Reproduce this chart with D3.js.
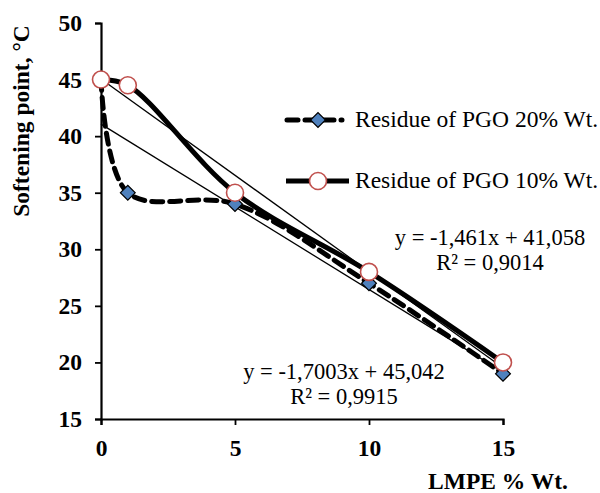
<!DOCTYPE html>
<html>
<head>
<meta charset="utf-8">
<script src="https://cdn.jsdelivr.net/npm/d3@7"></script>
<style>
  body { margin: 0; background: #fff; }
  text { font-family: "Liberation Serif", "Times New Roman", serif; }
</style>
</head>
<body>
<svg width="600" height="493"></svg>
<script>
// data
var xValues = [0, 1, 5, 10, 15];
var pgo20 = [45, 35, 34, 27, 19];
var pgo10 = [45, 44.5, 35, 28, 20];
var seriesNames = ["Residue of PGO 20% Wt.", "Residue of PGO 10% Wt."];
var trend20 = {slope: -1.461, intercept: 41.058, label: "y = -1,461x + 41,058", r2: "R² = 0,9014"};
var trend10 = {slope: -1.7003, intercept: 45.042, label: "y = -1,7003x + 45,042", r2: "R² = 0,9915"};
var xTicks = [0, 5, 10, 15];
var yTicks = [15, 20, 25, 30, 35, 40, 45, 50];

var svg = d3.select("svg");
var x = d3.scaleLinear().domain([0, 15]).range([101, 503]);
var y = d3.scaleLinear().domain([15, 50]).range([419, 23]);

var fs = 23.5;

// axes
var yAxis = svg.append("g")
  .attr("transform", "translate(101,0)")
  .call(d3.axisLeft(y).tickValues(yTicks).tickSize(6).tickPadding(13));
var xAxis = svg.append("g")
  .attr("transform", "translate(0,419)")
  .call(d3.axisBottom(x).tickValues(xTicks).tickSize(6).tickPadding(14));
[xAxis, yAxis].forEach(function(a) {
  a.select(".domain").attr("stroke", "#000").attr("stroke-width", 2.2);
  a.selectAll(".tick line").attr("stroke", "#000").attr("stroke-width", 1.8);
  a.selectAll(".tick text")
    .attr("fill", "#000")
    .style("font-size", fs + "px")
    .style("font-weight", "bold")
    .style("font-family", "'Liberation Serif', serif");
});

// axis titles
svg.append("text")
  .attr("x", 498).attr("y", 489)
  .attr("text-anchor", "middle")
  .style("font-size", fs + "px").style("font-weight", "bold")
  .text("LMPE % Wt.");
svg.append("text")
  .attr("transform", "translate(29,121) rotate(-90)")
  .attr("text-anchor", "middle")
  .style("font-size", fs + "px").style("font-weight", "bold")
  .text("Softening point, °C");

// trendlines
[trend20, trend10].forEach(function(t) {
  svg.append("line")
    .attr("x1", x(0)).attr("y1", y(t.intercept))
    .attr("x2", x(15)).attr("y2", y(t.intercept + t.slope * 15))
    .attr("stroke", "#000").attr("stroke-width", 1.3);
});

var line = d3.line()
  .x(function(d) { return x(d[0]); })
  .y(function(d) { return y(d[1]); })
  .curve(d3.curveCatmullRom.alpha(0.5));

var pts20 = xValues.map(function(v, i) { return [v, pgo20[i]]; });
var pts10 = xValues.map(function(v, i) { return [v, pgo10[i]]; });

svg.append("path")
  .attr("d", line(pts20))
  .attr("fill", "none").attr("stroke", "#000")
  .attr("stroke-width", 5).attr("stroke-dasharray", "11,7")
  .attr("stroke-linecap", "round");

svg.append("path")
  .attr("d", line(pts10))
  .attr("fill", "none").attr("stroke", "#000")
  .attr("stroke-width", 5);

var diamond = d3.symbol().type(d3.symbolSquare).size(110);
function drawDiamond(cx, cy) {
  svg.append("path")
    .attr("d", diamond())
    .attr("transform", "translate(" + cx + "," + cy + ") rotate(45)")
    .attr("fill", "#4F81BD").attr("stroke", "#000").attr("stroke-width", 1.2);
}
function drawCircle(cx, cy) {
  svg.append("circle")
    .attr("cx", cx).attr("cy", cy).attr("r", 8.5)
    .attr("fill", "#fff").attr("stroke", "#C0504D").attr("stroke-width", 1.6);
}

pts20.forEach(function(d) { drawDiamond(x(d[0]), y(d[1])); });
pts10.forEach(function(d) { drawCircle(x(d[0]), y(d[1])); });

// legend
var legY = [120, 181];
svg.append("line")
  .attr("x1", 287).attr("x2", 342).attr("y1", legY[0]).attr("y2", legY[0])
  .attr("stroke", "#000").attr("stroke-width", 5)
  .attr("stroke-dasharray", "11,7").attr("stroke-linecap", "round");
drawDiamond(318, legY[0]);
svg.append("line")
  .attr("x1", 286).attr("x2", 349).attr("y1", legY[1]).attr("y2", legY[1])
  .attr("stroke", "#000").attr("stroke-width", 5);
drawCircle(318, legY[1]);
seriesNames.forEach(function(n, i) {
  svg.append("text")
    .attr("x", 355).attr("y", legY[i] + 7)
    .style("font-size", fs + "px")
    .text(n);
});

// trendline equations
var efs = 22.5;
function eqLabel(t, cx, by) {
  svg.append("text").attr("x", cx).attr("y", by)
    .attr("text-anchor", "middle").style("font-size", efs + "px").text(t.label);
  svg.append("text").attr("x", cx).attr("y", by + 25)
    .attr("text-anchor", "middle").style("font-size", efs + "px").text(t.r2);
}
eqLabel(trend20, 490, 245);
eqLabel(trend10, 344, 379);
</script>
</body>
</html>
